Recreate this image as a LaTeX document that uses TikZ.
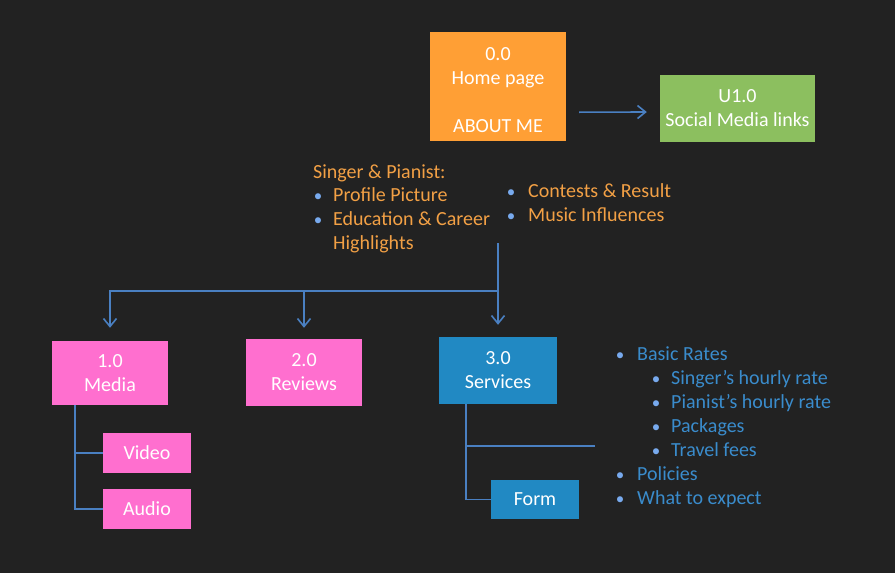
\documentclass[tikz,border=0pt]{standalone}
\usepackage{fontspec}
\setmainfont{Carlito}
\usetikzlibrary{arrows.meta}
\definecolor{bgdark}{HTML}{222222}
\definecolor{homeorange}{HTML}{FF9F35}
\definecolor{linkgreen}{HTML}{8CBF5F}
\definecolor{pagepink}{HTML}{FF6FCF}
\definecolor{servblue}{HTML}{2189C3}
\definecolor{lineblue}{HTML}{4A80C2}
\definecolor{txtorange}{HTML}{F2A045}
\definecolor{txtblue}{HTML}{3A8CCC}
\definecolor{bulblue}{HTML}{78AAEE}
\tikzset{
  page/.style={draw=none, text=white, align=center, inner sep=0pt,
    font=\fontsize{20}{24}\selectfont},
  link/.style={draw=lineblue, line width=1.6pt},
  tip/.style={-{Straight Barb[length=8pt,width=13pt,line width=1.6pt]}},
  otxt/.style={anchor=base west, inner sep=0pt, text=txtorange,
    font=\fontsize{20}{24}\selectfont},
  btxt/.style={anchor=base west, inner sep=0pt, text=txtblue,
    font=\fontsize{20}{24}\selectfont},
  bul/.style={anchor=base, inner sep=0pt, text=bulblue,
    font=\fontsize{17}{24}\selectfont},
}
\begin{document}
\begin{tikzpicture}[x=1pt,y=-1pt]
\fill[bgdark] (0,0) rectangle (895,573);
\useasboundingbox (0,0) rectangle (895,573);
% boxes
\node[page, fill=homeorange, minimum width=136pt, minimum height=109pt] (home) at (498,86.5) {};
\node[page, text=white] (hometxt) at (498,90) {0.0\\Home page\\[24pt]ABOUT ME};
\node[page, fill=linkgreen, minimum width=155pt, minimum height=67pt] (social) at (737.5,108.5) {U1.0\\Social Media links};
\node[page, fill=pagepink, minimum width=116pt, minimum height=64pt] (media) at (110,373) {1.0\\Media};
\node[page, fill=pagepink, minimum width=116pt, minimum height=67pt] (reviews) at (304,372.5) {2.0\\Reviews};
\node[page, fill=servblue, minimum width=118pt, minimum height=67pt] (services) at (498,370.5) {3.0\\Services};
\node[page, fill=pagepink, minimum width=88pt, minimum height=40pt] (video) at (147,453) {Video};
\node[page, fill=pagepink, minimum width=88pt, minimum height=40pt] (audio) at (147,509) {Audio};
\node[page, fill=servblue, minimum width=88pt, minimum height=39pt] (form) at (535,499.5) {Form};
% home page contents
\node[otxt] (singer) at (313,178) {Singer \& Pianist:};
\node[otxt] (profile) at (333,201.5) {Profile Picture};
\node[otxt] (career) at (333,225.5) {Education \& Career};
\node[otxt] (highlights) at (333,249.5) {Highlights};
\node[otxt] (contests) at (528,197) {Contests \& Result};
\node[otxt] (influences) at (528,221) {Music Influences};
\node[bul] at (318,201.5) {\textbullet};
\node[bul] at (318,225.5) {\textbullet};
\node[bul] at (511,197) {\textbullet};
\node[bul] at (511,221) {\textbullet};
% services contents
\node[btxt] (rates) at (637,360) {Basic Rates};
\node[btxt] (singrate) at (671,384) {Singer’s hourly rate};
\node[btxt] (pianrate) at (671,408) {Pianist’s hourly rate};
\node[btxt] (packages) at (671,432) {Packages};
\node[btxt] (travel) at (671,456) {Travel fees};
\node[btxt] (policies) at (637,480) {Policies};
\node[btxt] (expect) at (637,504) {What to expect};
\node[bul] at (620,360) {\textbullet};
\node[bul] at (656,384) {\textbullet};
\node[bul] at (656,408) {\textbullet};
\node[bul] at (656,432) {\textbullet};
\node[bul] at (656,456) {\textbullet};
\node[bul] at (620,480) {\textbullet};
\node[bul] at (620,504) {\textbullet};
% connectors
\coordinate (treetop) at (498,243);
\coordinate (hub) at (498,291);
\coordinate (ratesend) at (595,446);
\draw[link, tip] ([xshift=13pt,yshift=29pt]home.south east) -- ([xshift=-13pt,yshift=-3.5pt]social.west);
\draw[link] (treetop) -- (hub);
\draw[link, tip] (hub) -| ([yshift=13pt]media.north);
\draw[link, tip] (hub) -| ([yshift=11pt]reviews.north);
\draw[link, tip] (hub) -- ([yshift=12pt]services.north);
\draw[link] ([xshift=23pt]media.south west) |- (video.west);
\draw[link] ([xshift=23pt]media.south west) |- (audio.west);
\draw[link] ([xshift=27pt]services.south west) |- (ratesend);
\draw[link] ([xshift=27pt]services.south west) |- (form.west);
\end{tikzpicture}
\end{document}
